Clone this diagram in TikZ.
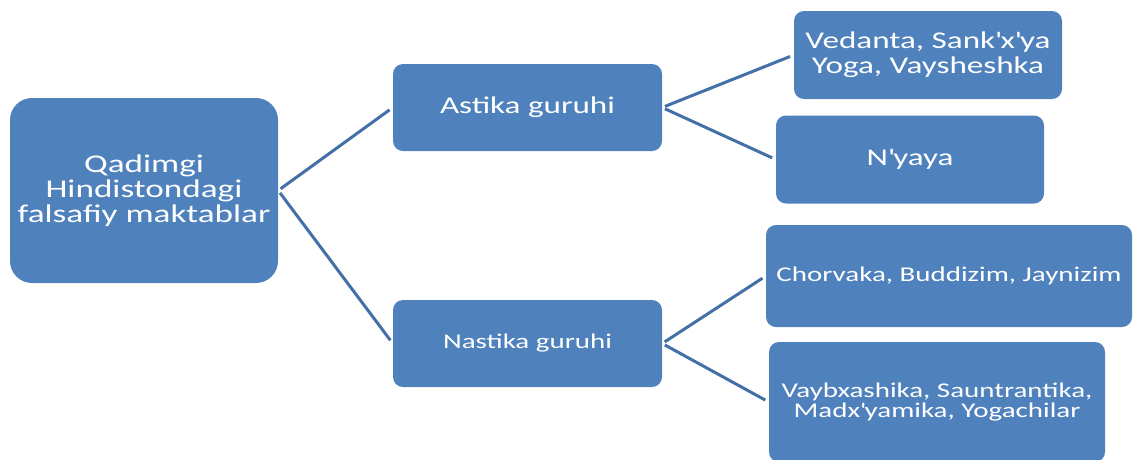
\documentclass[tikz,border=0pt]{standalone}
\usepackage{fontspec}
\setmainfont{Carlito}[FakeStretch=1.38]
\usepackage{tikz}
\usepackage{xcolor}
\usetikzlibrary{positioning}
\definecolor{smartblue}{RGB}{79, 129, 189}
\definecolor{linkblue}{RGB}{68, 112, 168}
\newcommand{\qt}{\textquotesingle}
\tikzset{
    box/.style={
        rectangle, rounded corners=10pt, fill=smartblue, text=white,
        align=center, inner sep=0pt, font=\fontsize{24}{25}\selectfont
    },
    rootbox/.style={box, rounded corners=22pt, font=\fontsize{25.5}{25}\selectfont},
    groupbox/.style={box, minimum width=269pt, minimum height=87pt},
    leafbox/.style={box, minimum width=268pt, minimum height=88pt},
    smallfont/.style={font=\fontsize{21}{20}\selectfont},
    link/.style={line width=3pt, draw=linkblue, shorten <=3pt, shorten >=4pt},
}
\begin{document}
\begin{tikzpicture}[x=1pt, y=-1pt]
    \useasboundingbox (0, 0) rectangle (1135, 459);

    \node[rootbox, minimum width=268pt, minimum height=185pt] (root) at (144, 190.5) {Qadimgi\\Hindistondagi\\falsafiy maktablar};

    \node[groupbox] (astika) at (527.5, 107.5) {Astika guruhi};
    \node[groupbox, smallfont] (nastika) at (527.5, 343.5) {Nastika guruhi};

    \node[leafbox] (vedanta) at (928, 55) {Vedanta, Sank\qt x\qt ya\\Yoga, Vaysheshka};
    \node[leafbox] (nyaya) at (910, 159.5) {N\qt yaya};
    \node[box, smallfont, minimum width=366pt, minimum height=102pt] (chorvaka) at (949, 276) {Chorvaka, Buddizim, Jaynizim};
    \node[box, smallfont, minimum width=336pt, minimum height=120pt] (vaybx) at (937, 402) {Vaybxashika, Sauntrantika,\\Madx\qt yamika, Yogachilar};

    \draw[link] (root.east) -- (astika.west);
    \draw[link] (root.east) -- (nastika.west);
    \draw[link] (astika.east) -- (vedanta.west);
    \draw[link] (astika.east) -- (nyaya.west);
    \draw[link] (nastika.east) -- (chorvaka.west);
    \draw[link] (nastika.east) -- (vaybx.west);
\end{tikzpicture}
\end{document}
